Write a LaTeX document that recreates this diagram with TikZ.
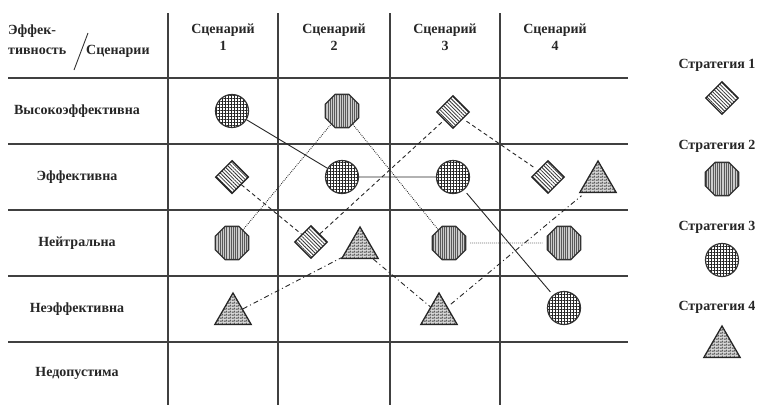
\documentclass[tikz,border=0pt]{standalone}
\usepackage{fontspec}
\setmainfont{Liberation Serif}
\usetikzlibrary{shapes.geometric,patterns,patterns.meta}

\tikzdeclarepattern{
  name=tinybricks,
  bounding box={(0,0) and (4pt,3pt)},
  tile size={(4pt,3pt)},
  code={
    \draw[line width=0.6pt] (0,0) -- (4pt,0) (0,1.5pt) -- (4pt,1.5pt)
      (1pt,0) -- (1pt,1.5pt) (3pt,1.5pt) -- (3pt,3pt);
  }
}

\tikzset{
  tableline/.style={draw=black!75, line width=1.4pt},
  lbl/.style={font=\bfseries\fontsize{14}{17}\selectfont, align=center, inner sep=0pt, text=black!85},
  strat1/.style={diamond, draw=black!85, line width=1.3pt, inner sep=0pt, minimum size=33pt,
    preaction={fill=white}, pattern={Lines[angle=-45,distance=2.6pt,line width=0.8pt]}, pattern color=black!80},
  strat2/.style={regular polygon, regular polygon sides=8, draw=black!80, line width=1.3pt, inner sep=0pt,
    minimum size=36pt, preaction={fill=gray!40}, pattern={Lines[angle=90,distance=2.2pt,line width=0.5pt]}, pattern color=black!65},
  strat3/.style={circle, draw=black!80, line width=1.2pt, inner sep=0pt, minimum size=33pt,
    preaction={fill=white}, pattern={Hatch[angle=0,distance=3pt,line width=1pt]}, pattern color=black!85},
  strat4/.style={regular polygon, regular polygon sides=3, draw=black!85, line width=1.3pt, inner sep=0pt,
    minimum size=42pt, preaction={fill=gray!30}, pattern=tinybricks, pattern color=black!75},
  link/.style={draw=black!85, line width=0.9pt, shorten >=4pt, shorten <=4pt},
}

\begin{document}
\begin{tikzpicture}[x=1pt,y=-1pt]
\useasboundingbox (0,0) rectangle (760,405);

% table
\foreach \y in {78,144,210,276,342}
  \draw[tableline] (8,\y) -- (628,\y);
\foreach \x in {168,278,390,500}
  \draw[tableline] (\x,13) -- (\x,405);

% corner cell
\node[lbl, anchor=west] (eff1) at (8,31) {Эффек-};
\node[lbl, anchor=west] (eff2) at (8,51) {тивность};
\node[lbl, anchor=west] (scn) at (86,51) {Сценарии};
\draw[black!80, line width=0.9pt] (88,33) -- (74,70);

% header
\node[lbl] (h1) at (223,37) {Сценарий\\1};
\node[lbl] (h2) at (334,37) {Сценарий\\2};
\node[lbl] (h3) at (445,37) {Сценарий\\3};
\node[lbl] (h4) at (555,37) {Сценарий\\4};

% rows
\node[lbl] (r1) at (77,111) {Высокоэффективна};
\node[lbl] (r2) at (77,177) {Эффективна};
\node[lbl] (r3) at (77,243) {Нейтральна};
\node[lbl] (r4) at (77,309) {Неэффективна};
\node[lbl] (r5) at (77,373) {Недопустима};

% strategies in the cells
\node[strat1] (s1a) at (232,177) {};
\node[strat1] (s1b) at (311,242) {};
\node[strat1] (s1c) at (453,112) {};
\node[strat1] (s1d) at (548,177) {};

\node[strat2] (s2a) at (232,243) {};
\node[strat2] (s2b) at (342,111) {};
\node[strat2] (s2c) at (449,243) {};
\node[strat2] (s2d) at (564,243) {};

\node[strat3] (s3a) at (232,111) {};
\node[strat3] (s3b) at (342,177) {};
\node[strat3] (s3c) at (453,177) {};
\node[strat3] (s3d) at (564,308) {};

\node[strat4] (s4a) at (233,314) {};
\node[strat4] (s4b) at (360,248) {};
\node[strat4] (s4c) at (439,314) {};
\node[strat4] (s4d) at (598,182) {};

% paths
\draw[link, dash pattern=on 4pt off 3pt] (s1a) -- (s1b) -- (s1c) -- (s1d);
\draw[link, dash pattern=on 0.8pt off 1.2pt] (s2a) -- (s2b) -- (s2c) -- (s2d);
\draw[link] (s3a) -- (s3b) -- (s3c) -- (s3d);
\draw[link, dash pattern=on 5pt off 3pt on 1pt off 3pt] (s4a) -- (s4b) -- (s4c) -- (s4d);

% legend
\node[lbl] (l1) at (717,65) {Стратегия 1};
\node[strat1] (k1) at (722,98) {};
\node[lbl] (l2) at (717,146) {Стратегия 2};
\node[strat2] (k2) at (722,179) {};
\node[lbl] (l3) at (717,227) {Стратегия 3};
\node[strat3] (k3) at (722,260) {};
\node[lbl] (l4) at (717,307) {Стратегия 4};
\node[strat4] (k4) at (722,347) {};
\end{tikzpicture}
\end{document}
